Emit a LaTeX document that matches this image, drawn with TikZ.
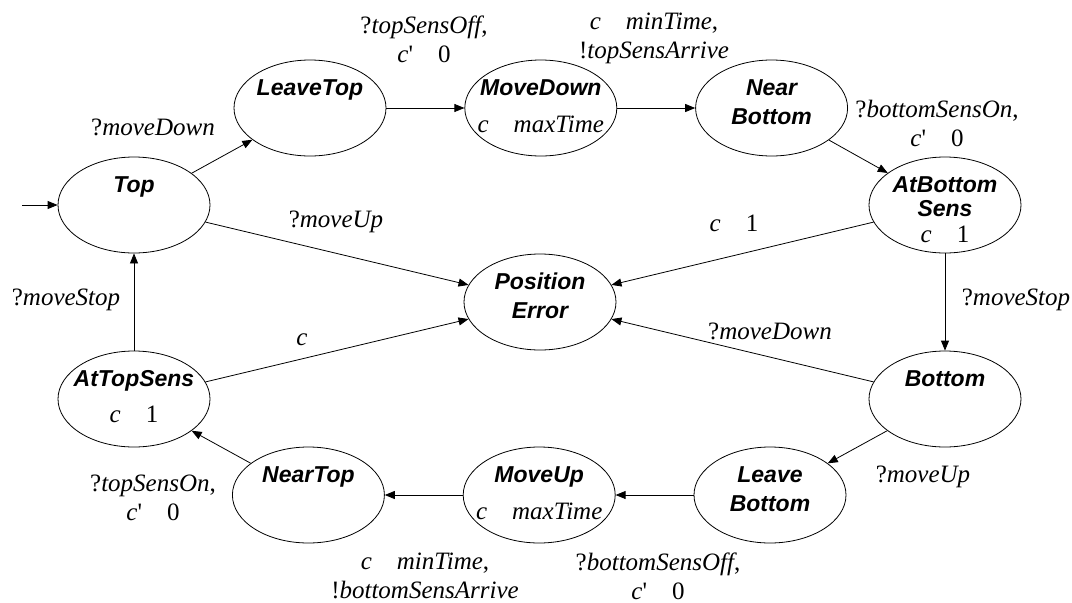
\documentclass[tikz,border=0pt]{standalone}
\usepackage{fontspec}
\setmainfont{Liberation Serif}
\newfontfamily\namefont{Liberation Sans}
\usetikzlibrary{arrows.meta,positioning,shapes.geometric}
\newcommand{\stlines}[1]{\makebox[0pt]{\raisebox{12.5pt}[0pt][0pt]{\begin{tabular}[t]{@{}c@{}}#1\end{tabular}}}}
\newcommand{\inv}[1]{{\rmfamily\mdseries\upshape\fontsize{25}{29}\selectfont #1}}
\tikzset{
  state/.style={draw=black, line width=0.8pt, ellipse, minimum width=152pt, minimum height=96pt, inner sep=0pt, font=\namefont\bfseries\itshape\fontsize{23}{28}\selectfont},
  lbl/.style={align=center, inner sep=0pt, font=\fontsize{25}{29}\selectfont},
  flow/.style={-{Triangle[length=10pt, width=8pt]}, line width=0.8pt, draw=black}
}

\begin{document}
\begin{tikzpicture}[x=1pt, y=-1pt, node distance=78pt]
  \useasboundingbox (0,0) rectangle (1072,603);
  \coordinate (init) at (22,205);
  \node[state] (top) at (134,205) {\stlines{Top}};
  \node[state] (leavetop) at (310,108) {\stlines{LeaveTop}};
  \node[state, right=of leavetop] (movedown) {\stlines{MoveDown\\[9pt]\inv{\textit{c}\quad\textit{maxTime}}}};
  \node[state, right=of movedown] (nearbottom) {\stlines{Near\\[1pt]Bottom}};
  \node[state] (atbottomsens) at (945,205) {\stlines{AtBottom\\[-4pt]Sens\\[-2pt]\inv{\textit{c}\quad 1}}};
  \node[state] (poserror) at (540,302) {\stlines{Position\\[1pt]Error}};
  \node[state] (bottom) at (945,399) {\stlines{Bottom}};
  \node[state] (leavebottom) at (770,495) {\stlines{Leave\\[1pt]Bottom}};
  \node[state, left=of leavebottom] (moveup) {\stlines{MoveUp\\[9pt]\inv{\textit{c}\quad\textit{maxTime}}}};
  \node[state, left=of moveup] (neartop) {\stlines{NearTop}};
  \node[state] (attopsens) at (134,399) {\stlines{AtTopSens\\[8pt]\inv{\textit{c}\quad 1}}};

  % guards and actions
  \node[lbl] (l1) at (153,127) {?\textit{moveDown}};
  \node[lbl] (l2) at (424,39) {?\textit{topSensOff},\\\textit{c}\textquotesingle\quad 0};
  \node[lbl] (l3) at (654,38) {\textit{c}\quad\textit{minTime},\\!\textit{topSensArrive}};
  \node[lbl] (l4) at (937,123) {?\textit{bottomSensOn},\\\textit{c}\textquotesingle\quad 0};
  \node[lbl] (l5) at (734,223) {\textit{c}\quad 1};
  \node[lbl] (l6) at (336,222) {?\textit{moveUp}};
  \node[lbl] (l7) at (66,300) {?\textit{moveStop}};
  \node[lbl] (l8) at (1016,300) {?\textit{moveStop}};
  \node[lbl] (l9) at (302,340) {\textit{c}};
  \node[lbl] (l10) at (770,331) {?\textit{moveDown}};
  \node[lbl] (l11) at (923,477) {?\textit{moveUp}};
  \node[lbl] (l12) at (658,576) {?\textit{bottomSensOff},\\\textit{c}\textquotesingle\quad 0};
  \node[lbl] (l13) at (425,576) {\textit{c}\quad\textit{minTime},\\!\textit{bottomSensArrive}};
  \node[lbl] (l14) at (153,498) {?\textit{topSensOn},\\\textit{c}\textquotesingle\quad 0};

  \draw[flow] (init) -- (top);
  \draw[flow] (top) -- (leavetop);
  \draw[flow] (leavetop) -- (movedown);
  \draw[flow] (movedown) -- (nearbottom);
  \draw[flow] (nearbottom) -- (atbottomsens);
  \draw[flow] (atbottomsens) -- (bottom);
  \draw[flow] (bottom) -- (leavebottom);
  \draw[flow] (leavebottom) -- (moveup);
  \draw[flow] (moveup) -- (neartop);
  \draw[flow] (neartop) -- (attopsens);
  \draw[flow] (attopsens) -- (top);
  \draw[flow] (top) -- (poserror);
  \draw[flow] (atbottomsens) -- (poserror);
  \draw[flow] (attopsens) -- (poserror);
  \draw[flow] (bottom) -- (poserror);
\end{tikzpicture}
\end{document}
